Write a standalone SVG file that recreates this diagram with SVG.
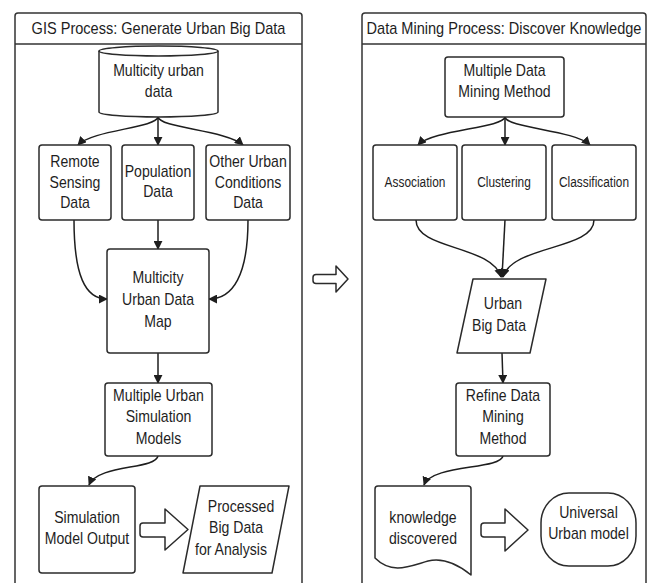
<svg xmlns="http://www.w3.org/2000/svg" width="647" height="583" viewBox="0 0 647 583">
<style>
.shape{fill:#fff;stroke:#2b2b2b;stroke-width:1.5;stroke-linejoin:round}
.panel{fill:#fff;stroke:#333;stroke-width:1.5}
.t{font-family:"Liberation Sans",Arial,sans-serif;font-size:16px;fill:#1e1e1e;text-anchor:middle;transform-box:fill-box;transform-origin:center;transform:scaleX(0.88)}
.h{transform:scaleX(0.91)}
.s{font-size:14.5px;transform:scaleX(0.82)}
.c{fill:none;stroke:#1e1e1e;stroke-width:1.5;marker-end:url(#ah)}
</style>
<defs>
<marker id="ah" viewBox="0 0 10 10" refX="9" refY="5" markerWidth="9" markerHeight="9" markerUnits="userSpaceOnUse" orient="auto">
<path d="M0,0 L10,5 L0,10 Z" fill="#1e1e1e"/>
</marker>
</defs>
<rect width="647" height="583" fill="#fff"/>

<g id="panel-gis">
<rect class="panel" x="15" y="13" width="287" height="590" rx="3"/>
<line x1="15" y1="44" x2="302" y2="44" stroke="#333" stroke-width="1.5"/>
<text class="t h" x="158.5" y="34">GIS Process: Generate Urban Big Data</text>
</g>
<g id="panel-dm">
<rect class="panel" x="362" y="13" width="284" height="590" rx="3"/>
<line x1="362" y1="44" x2="646" y2="44" stroke="#333" stroke-width="1.5"/>
<text class="t h" x="504" y="34">Data Mining Process: Discover Knowledge</text>
</g>

<g id="connectors">
<path class="c" d="M158,117 C156,128 92,130 78,145"/>
<path class="c" d="M158,117 L158,145"/>
<path class="c" d="M158,117 C160,128 226,130 243,145"/>
<path class="c" d="M74,220 C74,275 85,299 107,299"/>
<path class="c" d="M158,220 L158,249"/>
<path class="c" d="M248,220 C248,275 233,299 209,299"/>
<path class="c" d="M158,353 L158,383"/>
<path class="c" d="M158,456 C155,470 98,464 89,485"/>
<path class="c" d="M505,117 C503,128 432,130 418,145"/>
<path class="c" d="M505,117 L505,145"/>
<path class="c" d="M505,117 C507,128 575,130 590,145"/>
<path class="c" d="M416,220 C416,250 492,245 501,277"/>
<path class="c" d="M505,220 L502,277"/>
<path class="c" d="M594,220 C594,250 512,245 503,277"/>
<path class="c" d="M502,353 L503,383"/>
<path class="c" d="M503,456 C500,470 432,464 424,485"/>
</g>

<g id="n-cylinder">
<path class="shape" d="M99,51 A59.5,5 0 0 1 218,51 L218,112 A59.5,5 0 0 1 99,112 Z"/>
<path d="M99,51 A59.5,5 0 0 0 218,51" fill="none" stroke="#2b2b2b" stroke-width="1.5"/>
<text class="t" x="158.5" y="76">Multicity urban</text>
<text class="t" x="158.5" y="97">data</text>
</g>
<g id="n-remote">
<rect class="shape" x="39" y="145" width="72" height="75" rx="3"/>
<text class="t" x="75" y="167">Remote</text>
<text class="t" x="75" y="188">Sensing</text>
<text class="t" x="75" y="208">Data</text>
</g>
<g id="n-population">
<rect class="shape" x="122" y="145" width="72" height="75" rx="3"/>
<text class="t" x="158" y="177">Population</text>
<text class="t" x="158" y="197">Data</text>
</g>
<g id="n-other">
<rect class="shape" x="206" y="145" width="84" height="75" rx="3"/>
<text class="t" x="248" y="167">Other Urban</text>
<text class="t" x="248" y="188">Conditions</text>
<text class="t" x="248" y="208">Data</text>
</g>
<g id="n-map">
<rect class="shape" x="107" y="249" width="102" height="104" rx="3"/>
<text class="t" x="158" y="283">Multicity</text>
<text class="t" x="158" y="305">Urban Data</text>
<text class="t" x="158" y="327">Map</text>
</g>
<g id="n-models">
<rect class="shape" x="105" y="383" width="107" height="73" rx="3"/>
<text class="t" x="158.5" y="401">Multiple Urban</text>
<text class="t" x="158.5" y="422">Simulation</text>
<text class="t" x="158.5" y="444">Models</text>
</g>
<g id="n-simout">
<rect class="shape" x="39" y="486" width="96" height="87" rx="3"/>
<text class="t" x="87" y="523">Simulation</text>
<text class="t" x="87" y="544">Model Output</text>
</g>
<g id="n-arrow1">
<path class="shape" d="M143,523 L165,523 L165,509 L188,529.5 L165,550 L165,537 L143,537 Q140,537 140,534 L140,526 Q140,523 143,523 Z"/>
</g>
<g id="n-processed">
<path class="shape" d="M200,486 L289,486 L272,573 L183,573 Z"/>
<text class="t" x="241" y="512">Processed</text>
<text class="t" x="236" y="533">Big Data</text>
<text class="t" x="231" y="555">for Analysis</text>
</g>

<g id="n-arrow-mid">
<path class="shape" d="M316,274.5 L336,274.5 L336,266 L348,279 L336,292 L336,283.5 L316,283.5 Q313,283.5 313,280.5 L313,277.5 Q313,274.5 316,274.5 Z"/>
</g>

<g id="n-mdmm">
<rect class="shape" x="445" y="57" width="119" height="60" rx="3"/>
<text class="t" x="504.5" y="76">Multiple Data</text>
<text class="t" x="504.5" y="97">Mining Method</text>
</g>
<g id="n-assoc">
<rect class="shape" x="373" y="145" width="84" height="75" rx="3"/>
<text class="t s" x="415" y="187">Association</text>
</g>
<g id="n-clust">
<rect class="shape" x="462" y="145" width="84" height="75" rx="3"/>
<text class="t s" x="504" y="187">Clustering</text>
</g>
<g id="n-class">
<rect class="shape" x="552" y="145" width="84" height="75" rx="3"/>
<text class="t s" x="594" y="187">Classification</text>
</g>
<g id="n-ubd">
<path class="shape" d="M473,279 L546,279 L530,353 L457,353 Z"/>
<text class="t" x="503" y="309">Urban</text>
<text class="t" x="499" y="331">Big Data</text>
</g>
<g id="n-refine">
<rect class="shape" x="456" y="383" width="94" height="73" rx="3"/>
<text class="t" x="503" y="401">Refine Data</text>
<text class="t" x="503" y="422">Mining</text>
<text class="t" x="503" y="444">Method</text>
</g>
<g id="n-knowledge">
<path class="shape" d="M378,486 L468,486 Q471,486 471,489 L471,575 C460,566 445,557 428,561 C410,566 392,575 375,558 L375,489 Q375,486 378,486 Z"/>
<text class="t" x="423" y="523">knowledge</text>
<text class="t" x="423" y="544">discovered</text>
</g>
<g id="n-arrow2">
<path class="shape" d="M484,523 L505,523 L505,509 L528,530 L505,551 L505,537 L484,537 Q481,537 481,534 L481,526 Q481,523 484,523 Z"/>
</g>
<g id="n-universal">
<rect class="shape" x="541" y="493" width="95" height="73" rx="28" ry="30"/>
<text class="t" x="588.5" y="518">Universal</text>
<text class="t" x="588.5" y="539">Urban model</text>
</g>
</svg>
